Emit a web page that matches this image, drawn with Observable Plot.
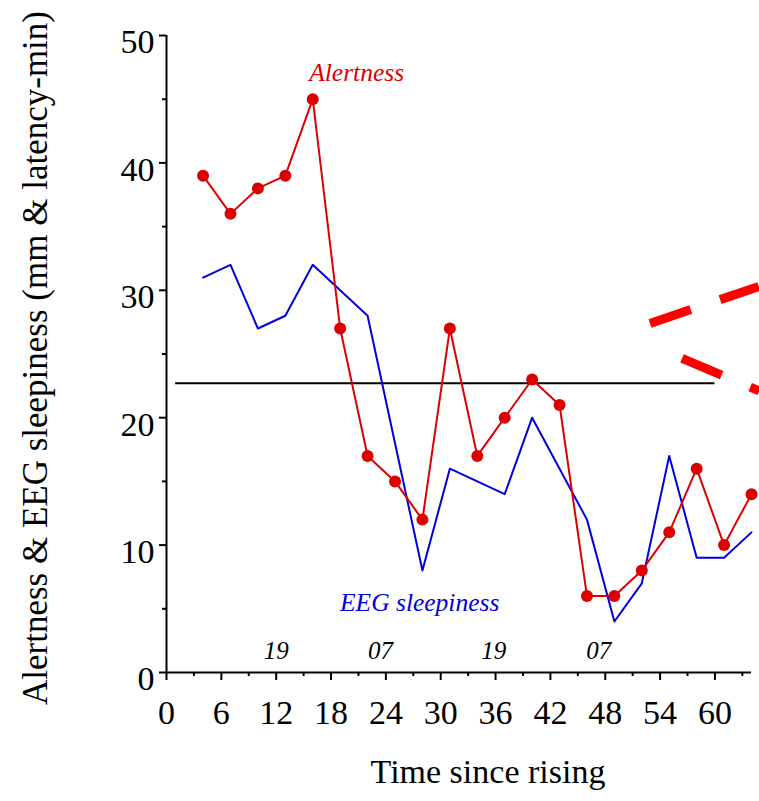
<!DOCTYPE html>
<html><head><meta charset="utf-8">
<script src="https://cdn.jsdelivr.net/npm/d3@7"></script>
<script src="https://cdn.jsdelivr.net/npm/@observablehq/plot@0.6"></script>
<style>body{margin:0;background:#fff}</style>
</head><body><div id="chart"></div>
<script>
const hours = [4,7,10,13,16,19,22,25,28,31,34,37,40,43,46,49,52,55,58,61,64];
const alertness = [39,36,38,39,45,27,17,15,12,27,17,20,23,21,6,6,8,11,16,10,14];
const eegSleepiness = [31,32,27,28,32,30,28,18,8,16,15,14,20,16,12,4,7,17,9,9,11];
const xTicks = [0,6,12,18,24,30,36,42,48,54,60];
const xMinorTicks = [3,9,15,21,27,33,39,45,51,57,63];
const yTicks = [0,10,20,30,40,50];
const yMinorTicks = [5,15,25,35,45];
const clockLabels = ["19","07","19","07"];
const clockLabelX = [12,23.4,35.8,47.3];
const clockLabelY = [1.65,1.65,1.65,1.65];
const refLevel = [22.7];
const refStart = 1, refEnd = 60;
const dashUpperX = [52.9, 64.8], dashUpperY = [27.4, 30.3];
const dashLowerX = [56.4, 64.85], dashLowerY = [24.66, 22.1];
const seriesLabels = ["Alertness", "EEG sleepiness"];
const seriesLabelX = [20.8, 27.7], seriesLabelY = [47.1, 5.5];
const xTitle = ["Time since rising"];
const yTitle = ["Alertness & EEG sleepiness (mm & latency-min)"];

const RED = "#dd0000", BLUE = "#0000dd";

const chart = Plot.plot({
  width: 759, height: 801,
  marginLeft: 166, marginRight: 8, marginTop: 35, marginBottom: 129,
  style: {fontFamily: "Liberation Serif", background: "white", overflow: "visible"},
  x: {domain: [0, 64]},
  y: {domain: [0, 50]},
  marks: [
    // axis lines
    Plot.ruleY([0], {x1: 0, x2: 64, stroke: "black", strokeWidth: 2}),
    Plot.ruleX([0], {y1: 0, y2: 50, stroke: "black", strokeWidth: 2}),
    // x ticks
    Plot.axisX({ticks: xTicks, tickSize: 8, tickFormat: () => "", label: null, strokeWidth: 2}),
    Plot.axisX({ticks: xMinorTicks, tickSize: 4, tickFormat: () => "", label: null, strokeWidth: 2}),
    Plot.axisX({ticks: xTicks, tickSize: 0, tickPadding: 27, fontSize: 34, tickFormat: d => String(d), label: null}),
    // y ticks
    Plot.axisY({ticks: yTicks, tickSize: 7, tickFormat: () => "", label: null, strokeWidth: 2}),
    Plot.axisY({ticks: yMinorTicks, tickSize: 4, tickFormat: () => "", label: null, strokeWidth: 2}),
    Plot.axisY({ticks: yTicks, tickSize: 0, tickPadding: 12, dy: 7, fontSize: 34, tickFormat: d => String(d), label: null}),
    // reference line
    Plot.ruleY(refLevel, {x1: refStart, x2: refEnd, stroke: "black", strokeWidth: 2}),
    // EEG sleepiness
    Plot.line(hours, {x: hours, y: eegSleepiness, stroke: BLUE, strokeWidth: 2}),
    // Alertness
    Plot.line(hours, {x: hours, y: alertness, stroke: RED, strokeWidth: 2}),
    Plot.dot(hours, {x: hours, y: alertness, r: 6, fill: RED, stroke: null}),
    // thick red dashed lines
    Plot.line(dashUpperX, {x: dashUpperX, y: dashUpperY, stroke: "#ff0000", strokeWidth: 9, strokeDasharray: "43,31", strokeLinecap: "butt"}),
    Plot.line(dashLowerX, {x: dashLowerX, y: dashLowerY, stroke: "#ff0000", strokeWidth: 9, strokeDasharray: "43,31", strokeLinecap: "butt"}),
    // series labels
    Plot.text(seriesLabels, {x: seriesLabelX, y: seriesLabelY, text: d => d, fill: [RED, BLUE], fontSize: 25.5, fontStyle: "italic"}),
    // clock labels
    Plot.text(clockLabels, {x: clockLabelX, y: clockLabelY, text: d => d, fill: "black", fontSize: 25, fontStyle: "italic"}),
    // axis titles
    Plot.text(xTitle, {frameAnchor: "bottom", text: d => d, dx: 29, dy: 110, fontSize: 34, fill: "black"}),
    Plot.text(yTitle, {frameAnchor: "left", textAnchor: "middle", text: d => d, rotate: -90, dx: -131, dy: 4, fontSize: 35, fill: "black"})
  ]
});
document.getElementById("chart").appendChild(chart);
</script>
</body></html>
